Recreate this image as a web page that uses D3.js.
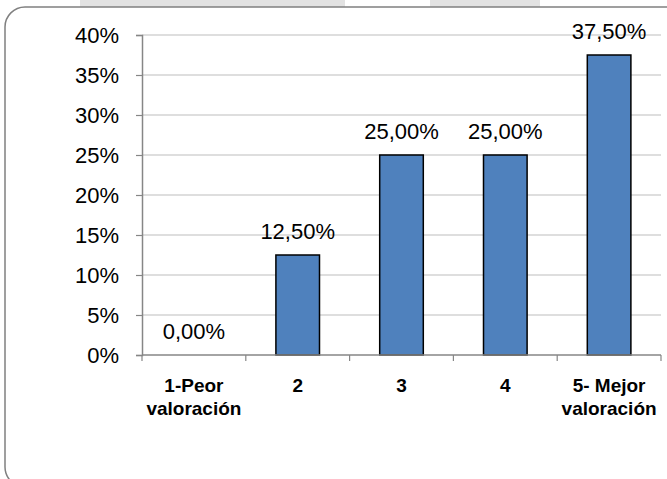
<!DOCTYPE html>
<html>
<head>
<meta charset="utf-8">
<script src="https://cdn.jsdelivr.net/npm/d3@7"></script>
<style>
  html, body { margin: 0; padding: 0; background: #fff; }
  svg { display: block; font-family: "Liberation Sans", Arial, sans-serif; }
</style>
</head>
<body>
<svg id="chart" width="667" height="479"></svg>
<script>
// ---- data ----
const categories = ["1-Peor valoración", "2", "3", "4", "5- Mejor valoración"];
const categoryLines = [["1-Peor", "valoración"], ["2"], ["3"], ["4"], ["5- Mejor", "valoración"]];
const values = [0, 12.5, 25, 25, 37.5];
const yTicks = [0, 5, 10, 15, 20, 25, 30, 35, 40];

// ---- layout ----
const svg = d3.select("#chart");
const plot = { left: 142, right: 661, top: 35, bottom: 355 };

const locale = d3.formatLocale({ decimal: ",", thousands: ".", grouping: [3], currency: ["", "€"] });
const fmt2 = locale.format(".2f");

// page background artefacts at top
svg.append("rect").attr("x", 80).attr("y", 0).attr("width", 265).attr("height", 7).attr("fill", "#e2e2e2");
svg.append("rect").attr("x", 430).attr("y", 0).attr("width", 110).attr("height", 7).attr("fill", "#e2e2e2");

// chart frame
svg.append("rect")
  .attr("x", 5).attr("y", 7)
  .attr("width", 720).attr("height", 480)
  .attr("rx", 20).attr("ry", 20)
  .attr("fill", "#fff")
  .attr("stroke", "#808080")
  .attr("stroke-width", 1.5);

const x = d3.scaleBand()
  .domain(categories)
  .range([plot.left, plot.right])
  .paddingInner(0.58)
  .paddingOuter(0.29);

const xStep = x.step();

const y = d3.scaleLinear().domain([0, 40]).range([plot.bottom, plot.top]);

// gridlines
svg.append("g").selectAll("line").data(yTicks.filter(d => d > 0)).join("line")
  .attr("x1", plot.left).attr("x2", plot.right)
  .attr("y1", d => y(d)).attr("y2", d => y(d))
  .attr("stroke", "#bdbdbd").attr("stroke-width", 1.2);

// y axis
const yAxis = d3.axisLeft(y).tickValues(yTicks).tickSize(6).tickPadding(17)
  .tickFormat(d => d + "%");
const gy = svg.append("g").attr("transform", `translate(${plot.left},0)`).call(yAxis);
gy.select(".domain").attr("stroke", "#868686").attr("stroke-width", 1.5);
gy.selectAll(".tick line").attr("stroke", "#868686").attr("stroke-width", 1.2);
gy.selectAll(".tick text").attr("font-size", 22).attr("fill", "#000")
  .attr("font-family", "Liberation Sans, Arial, sans-serif");

// bars
svg.append("g").selectAll("rect").data(values).join("rect")
  .attr("x", (d, i) => x(categories[i]))
  .attr("width", x.bandwidth())
  .attr("y", d => y(d))
  .attr("height", d => y(0) - y(d))
  .attr("fill", "#4f81bd")
  .attr("stroke", "#000")
  .attr("stroke-width", 1.5)
  .attr("display", d => d > 0 ? null : "none");

// x axis line + boundary ticks
const boundaries = d3.range(categories.length + 1).map(i => plot.left + i * xStep);
svg.append("line")
  .attr("x1", plot.left).attr("x2", plot.right)
  .attr("y1", y(0)).attr("y2", y(0))
  .attr("stroke", "#868686").attr("stroke-width", 1.5);
svg.append("g").selectAll("line").data(boundaries).join("line")
  .attr("x1", d => d).attr("x2", d => d)
  .attr("y1", y(0)).attr("y2", y(0) + 6)
  .attr("stroke", "#868686").attr("stroke-width", 1.2);

// data labels
svg.append("g").selectAll("text").data(values).join("text")
  .attr("x", (d, i) => x(categories[i]) + x.bandwidth() / 2)
  .attr("y", d => y(d) - 16)
  .attr("text-anchor", "middle")
  .attr("font-size", 22)
  .attr("fill", "#000")
  .text(d => fmt2(d) + "%");

// category labels
const cg = svg.append("g").selectAll("text").data(categoryLines).join("text")
  .attr("text-anchor", "middle")
  .attr("font-size", 19)
  .attr("font-weight", "bold")
  .attr("fill", "#000");
cg.each(function(lines, i) {
  const cx = x(categories[i]) + x.bandwidth() / 2;
  d3.select(this).selectAll("tspan").data(lines).join("tspan")
    .attr("x", cx)
    .attr("y", (l, j) => 392 + j * 23)
    .text(l => l);
});
</script>
</body>
</html>
